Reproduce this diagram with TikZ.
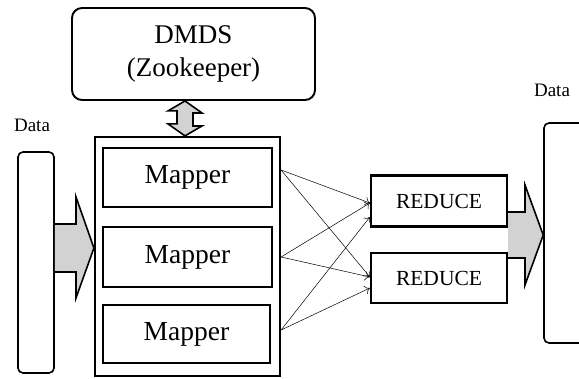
\documentclass[tikz,border=0pt]{standalone}
\usepackage{fontspec}
\setmainfont{Liberation Serif}
\usepackage{tikz}
\usetikzlibrary{calc,arrows,arrows.meta,shapes,positioning}

\begin{document}
\begin{tikzpicture}[x=1pt, y=-1pt, >={To[length=5pt,width=9pt]},
    mapbox/.style={draw=black, line width=2.8pt, rectangle, minimum width=169pt, minimum height=59pt, inner sep=0pt, font=\fontsize{27.5}{30}\selectfont},
    redbox/.style={draw=black, line width=2.2pt, rectangle, minimum width=136pt, minimum height=51pt, inner sep=0pt, font=\fontsize{21.5}{24}\selectfont},
    databox/.style={draw=black, line width=1.6pt, rectangle, rounded corners=5pt, inner sep=0pt},
    blockarrow/.style={draw=black, line width=1.6pt, fill=gray!35, line join=miter}]
   \useasboundingbox (0,0) rectangle (579,378);

   %zookeeper
   \node[draw=black, line width=1.9pt, rectangle, rounded corners=10pt, minimum width=243pt, minimum height=92pt, align=center, font=\fontsize{27}{33}\selectfont] (dmds) at (193.5,54) {DMDS\\(Zookeeper)};

   %mappers
   \node[draw=black, line width=2.2pt, rectangle, minimum width=185pt, minimum height=239pt] (mapall) at (187.5,256.5) {};
   \node[mapbox] (m1) at (187.5,177.5) {Mapper};
   \node[mapbox, minimum height=60pt] (m2) at (187.5,257) {Mapper};
   \node[mapbox, minimum width=167pt, minimum height=58pt] (m3) at (186.5,334) {Mapper};

   %reducers
   \node[redbox] (r1) at (439,201) {REDUCE};
   \node[redbox, minimum height=50pt] (r2) at (439,278) {REDUCE};

   %data in and out
   \node[databox, minimum width=36pt, minimum height=221pt] (din) at (36,262.5) {};
   \node[databox, minimum width=44pt, minimum height=220pt] (dout) at (566,233) {};
   \node[font=\fontsize{19}{20}\selectfont] (dinlbl) at (32,125) {Data};
   \node[font=\fontsize{19}{20}\selectfont] (doutlbl) at (552,90) {Data};

   %block arrows
   \draw[blockarrow] ($(dmds.south)+(-8.5,0)$) ++(0,0) -- ++(17,12) -- ++(-9,0) -- ++(0,13) -- ++(9,0) -- (mapall.north -| 185,0) -- ++(-17,-12) -- ++(9,0) -- ++(0,-13) -- ++(-9,0) -- cycle;
   \draw[blockarrow] (din.east |- 0,224) -- (76,224) -- (76,197) -- (mapall.west |- 0,248) -- (76,298) -- (76,272) -- (din.east |- 0,272);
   \draw[blockarrow] (r1.east |- 0,212) -- (525,212) -- (525,185) -- (dout.west |- 0,235) -- (525,285) -- (525,258) -- (r1.east |- 0,258);

   %shuffle
   \coordinate (o1) at (mapall.east |- 0,170);
   \coordinate (o2) at (mapall.east |- m2);
   \coordinate (o3) at (mapall.east |- 0,330);
  \path[->, line width=0.5pt]
    (o1) edge ([yshift=-2pt]r1.west)
         edge ([yshift=1pt]r2.west)
    (o2) edge ([yshift=-2pt]r1.west)
         edge ([yshift=1pt]r2.west)
    (o3) edge ([yshift=-16pt]r1.west)
         edge ([yshift=-10pt]r2.west);
\end{tikzpicture}
\end{document}
